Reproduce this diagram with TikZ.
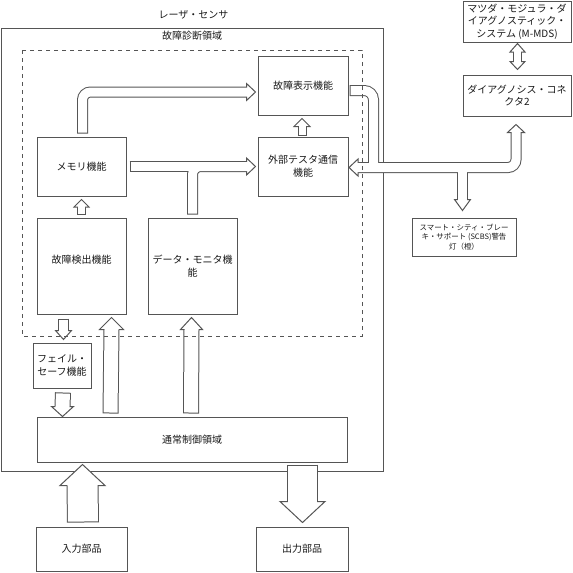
\documentclass[tikz,border=0pt]{standalone}
\usepackage{fontspec}
\setmainfont{Noto Sans CJK JP}
\usetikzlibrary{calc, positioning}
\definecolor{LineGray}{RGB}{85,85,85}
\definecolor{TextBlack}{RGB}{25,25,25}
\newcommand{\arrowhead}[5]{% tip, dx, dy, length, half width
  \filldraw[head] (#1) -- ++({-(#4)*(#2)-(#5)*(#3)},{-(#4)*(#3)+(#5)*(#2)}) -- ++({2*(#5)*(#3)},{-2*(#5)*(#2)}) -- cycle;}

\begin{document}
\begin{tikzpicture}[x=0.75pt, y=-0.75pt, font=\fontsize{7.5pt}{9.5pt}\selectfont, text=TextBlack,
    box/.style={draw=LineGray, line width=0.75pt, fill=white, align=center, inner sep=1pt},
    frame/.style={draw=LineGray, line width=0.75pt},
    rim/.style={draw=LineGray, line width=(#1+2)*0.75pt},
    core/.style={draw=white, line width=#1*0.75pt},
    tailend/.style={shorten <=0.75pt},
    headend/.style={shorten >=-1.5pt},
    headstart/.style={shorten <=-1.5pt},
    head/.style={fill=white, draw=LineGray, line width=0.75pt, line join=miter}]
  \useasboundingbox (0,0) rectangle (573,572);
  % sensor frame
  \draw[frame] (1,28) rectangle (383,471);
  \node (sensor) at (193.5,15) {レーザ・センサ};
  \node (diag) at (192,36) {故障診断領域};
  % function boxes
  \node[box, minimum width=67.5pt, minimum height=44.25pt] (disp) at (303,85.5) {故障表示機能};
  \node[box, minimum width=67.5pt, minimum height=44.25pt] (ext) at (303,166.5) {外部テスタ通信\\機能};
  \node[box, minimum width=66.75pt, minimum height=44.25pt] (mem) at (81.5,166.5) {メモリ機能};
  \node[box, minimum width=66.75pt, minimum height=72pt] (det) at (81.5,266) {故障検出機能\\~};
  \node[box, minimum width=66.75pt, minimum height=72pt] (mon) at (192.5,266) {データ・モニタ機\\能};
  \node[box, minimum width=43.5pt, minimum height=33.75pt] (fs) at (62,365.5) {フェイル・\\セーフ機能};
  \node[box, minimum width=232.5pt, minimum height=33.75pt] (ctl) at (192,439.5) {通常制御領域};
  \node[box, minimum width=68.25pt, minimum height=33pt] (in) at (81.5,549) {入力部品};
  \node[box, minimum width=69pt, minimum height=33pt] (out) at (302,549) {出力部品};
  \node[box, minimum width=81pt, minimum height=30.75pt] (mds) at (517,21.5) {マツダ・モジュラ・ダ\\イアグノスティック・\\システム (M-MDS)};
  \node[box, minimum width=81pt, minimum height=30.75pt] (dlc) at (517,95.5) {ダイアグノシス・コネ\\クタ2};
  \node[box, minimum width=78pt, minimum height=28.5pt, font=\fontsize{5.6pt}{7.2pt}\selectfont] (scbs) at (464,237) {スマート・シティ・ブレー\\キ・サポート (SCBS)警告\\灯（橙）};

  % memory -> display
  \coordinate (memup) at ($(mem.north)+(1,-3)$);
  \coordinate (dispin) at ($(disp.west)+(-11,6.5)$);
  \draw[rim=9, rounded corners=6pt] (memup) |- (dispin);
  \arrowhead{$(dispin)+(9,0)$}{1}{0}{9}{8.5}
  \draw[core=9, tailend, headend, rounded corners=6pt] (memup) |- (dispin);

  % memory, monitor -> tester
  \coordinate (memout) at ($(mem.east)+(3,0)$);
  \coordinate (monup) at ($(mon.north)+(0,-3)$);
  \coordinate (extin) at ($(ext.west)+(-11,0)$);
  \draw[rim=9, rounded corners=6pt] (monup) |- (extin);
  \draw[rim=9] (memout) -- (extin);
  \arrowhead{$(extin)+(9,0)$}{1}{0}{9}{8.5}
  \draw[core=9, tailend, headend, rounded corners=6pt] (monup) |- (extin);
  \draw[core=9, tailend, headend] (memout) -- (extin);

  % tester -> display
  \coordinate (extup) at ($(ext.north)+(-1,-1)$);
  \coordinate (dispbot) at ($(disp.south)+(-1,11)$);
  \draw[rim=7] (extup) -- (dispbot);
  \arrowhead{$(dispbot)+(0,-8)$}{0}{-1}{8}{8}
  \draw[core=7, tailend, headend] (extup) -- (dispbot);

  % detection -> memory
  \coordinate (detup) at ($(det.north)+(0,-3)$);
  \coordinate (membot) at ($(mem.south)+(0,10.5)$);
  \draw[rim=7] (detup) -- (membot);
  \arrowhead{$(membot)+(0,-7.5)$}{0}{-1}{7.5}{7.5}
  \draw[core=7, tailend, headend] (detup) -- (membot);

  % detection -> fail safe
  \coordinate (detdown) at ($(det.south)+(-18,4)$);
  \coordinate (fsin) at ($(fs.north)+(1.5,-12)$);
  \draw[rim=9] (detdown) -- (fsin);
  \arrowhead{$(fsin)+(0,9)$}{0}{1}{9}{8}
  \draw[core=9, tailend, headend] (detdown) -- (fsin);

  % fail safe -> normal control
  \coordinate (fsdown) at ($(fs.south)+(1,4)$);
  \coordinate (ctlin) at ($(ctl.north west)+(26,-10)$);
  \draw[rim=14] (fsdown) -- (ctlin);
  \arrowhead{$(ctlin)+(0,10)$}{0}{1}{10}{11}
  \draw[core=14, tailend, headend] (fsdown) -- (ctlin);

  % normal control -> detection, monitor
  \coordinate (ctlup1) at ($(ctl.north west)+(74,-3)$);
  \coordinate (detin) at ($(det.south east)+(-15,15)$);
  \coordinate (ctlup2) at ($(ctl.north west)+(154.5,-3)$);
  \coordinate (monin) at ($(mon.south)+(-1,15)$);
  \draw[rim=14] (ctlup1) -- (detin);
  \draw[rim=14] (ctlup2) -- (monin);
  \arrowhead{$(detin)+(0,-12)$}{0}{-1}{12}{12}
  \arrowhead{$(monin)+(0,-12)$}{0}{-1}{12}{11}
  \draw[core=14, tailend, headend] (ctlup1) -- (detin);
  \draw[core=14, tailend, headend] (ctlup2) -- (monin);

  % input -> normal control
  \coordinate (inup) at ($(in.north)+(1.5,-4)$);
  \coordinate (ctlbot) at ($(ctl.south west)+(46,23)$);
  \draw[rim=30] (inup) -- (ctlbot);
  \arrowhead{$(ctlbot)+(0,-21)$}{0}{-1}{21}{22.5}
  \draw[core=30, tailend, headend] (inup) -- (ctlbot);

  % normal control -> output
  \coordinate (ctldown) at ($(ctl.south)+(110.5,2)$);
  \coordinate (outin) at ($(out.north)+(0.5,-25)$);
  \draw[rim=29] (ctldown) -- (outin);
  \arrowhead{$(outin)+(0,21)$}{0}{1}{21}{22.5}
  \draw[core=29, tailend, headend] (ctldown) -- (outin);

  % tester <-> connector, display -> warning lamp
  \coordinate (extback) at ($(ext.east)+(9.5,1)$);
  \coordinate (dlcin) at ($(dlc.south)+(-1,16)$);
  \coordinate (dispout) at ($(disp.east)+(1,5)$);
  \coordinate (busjoin) at ($(extback)+(15.5,0)$);
  \coordinate (busfork) at ($(scbs.north)+(-1.5,-50.5)$);
  \coordinate (scbsin) at ($(scbs.north)+(-1.5,-18)$);
  \draw[rim=9, rounded corners=6pt] (extback) -| (dlcin);
  \draw[rim=9, rounded corners=7pt] (dispout) -| (busjoin);
  \draw[rim=9] (busfork) -- (scbsin);
  \arrowhead{$(extback)+(-9,0)$}{-1}{0}{9}{8.5}
  \arrowhead{$(dlcin)+(0,-8)$}{0}{-1}{8}{8.5}
  \arrowhead{$(scbsin)+(0,11)$}{0}{1}{11}{8}
  \draw[core=9, headstart, headend, rounded corners=6pt] (extback) -| (dlcin);
  \draw[core=9, tailend, rounded corners=7pt] (dispout) -| (busjoin);
  \draw[core=9, headend] (busfork) -- (scbsin);

  % M-MDS <-> connector
  \coordinate (mdsbot) at ($(mds.south)+(0.5,9.5)$);
  \coordinate (dlctop) at ($(dlc.north)+(0.5,-13)$);
  \draw[rim=7] (mdsbot) -- (dlctop);
  \arrowhead{$(mdsbot)+(0,-8.5)$}{0}{-1}{8.5}{7.5}
  \arrowhead{$(dlctop)+(0,8)$}{0}{1}{8}{7.5}
  \draw[core=7, headstart, headend] (mdsbot) -- (dlctop);

  % diagnosis area
  \draw[frame, dashed] (22,50) rectangle (362,336);
\end{tikzpicture}
\end{document}
